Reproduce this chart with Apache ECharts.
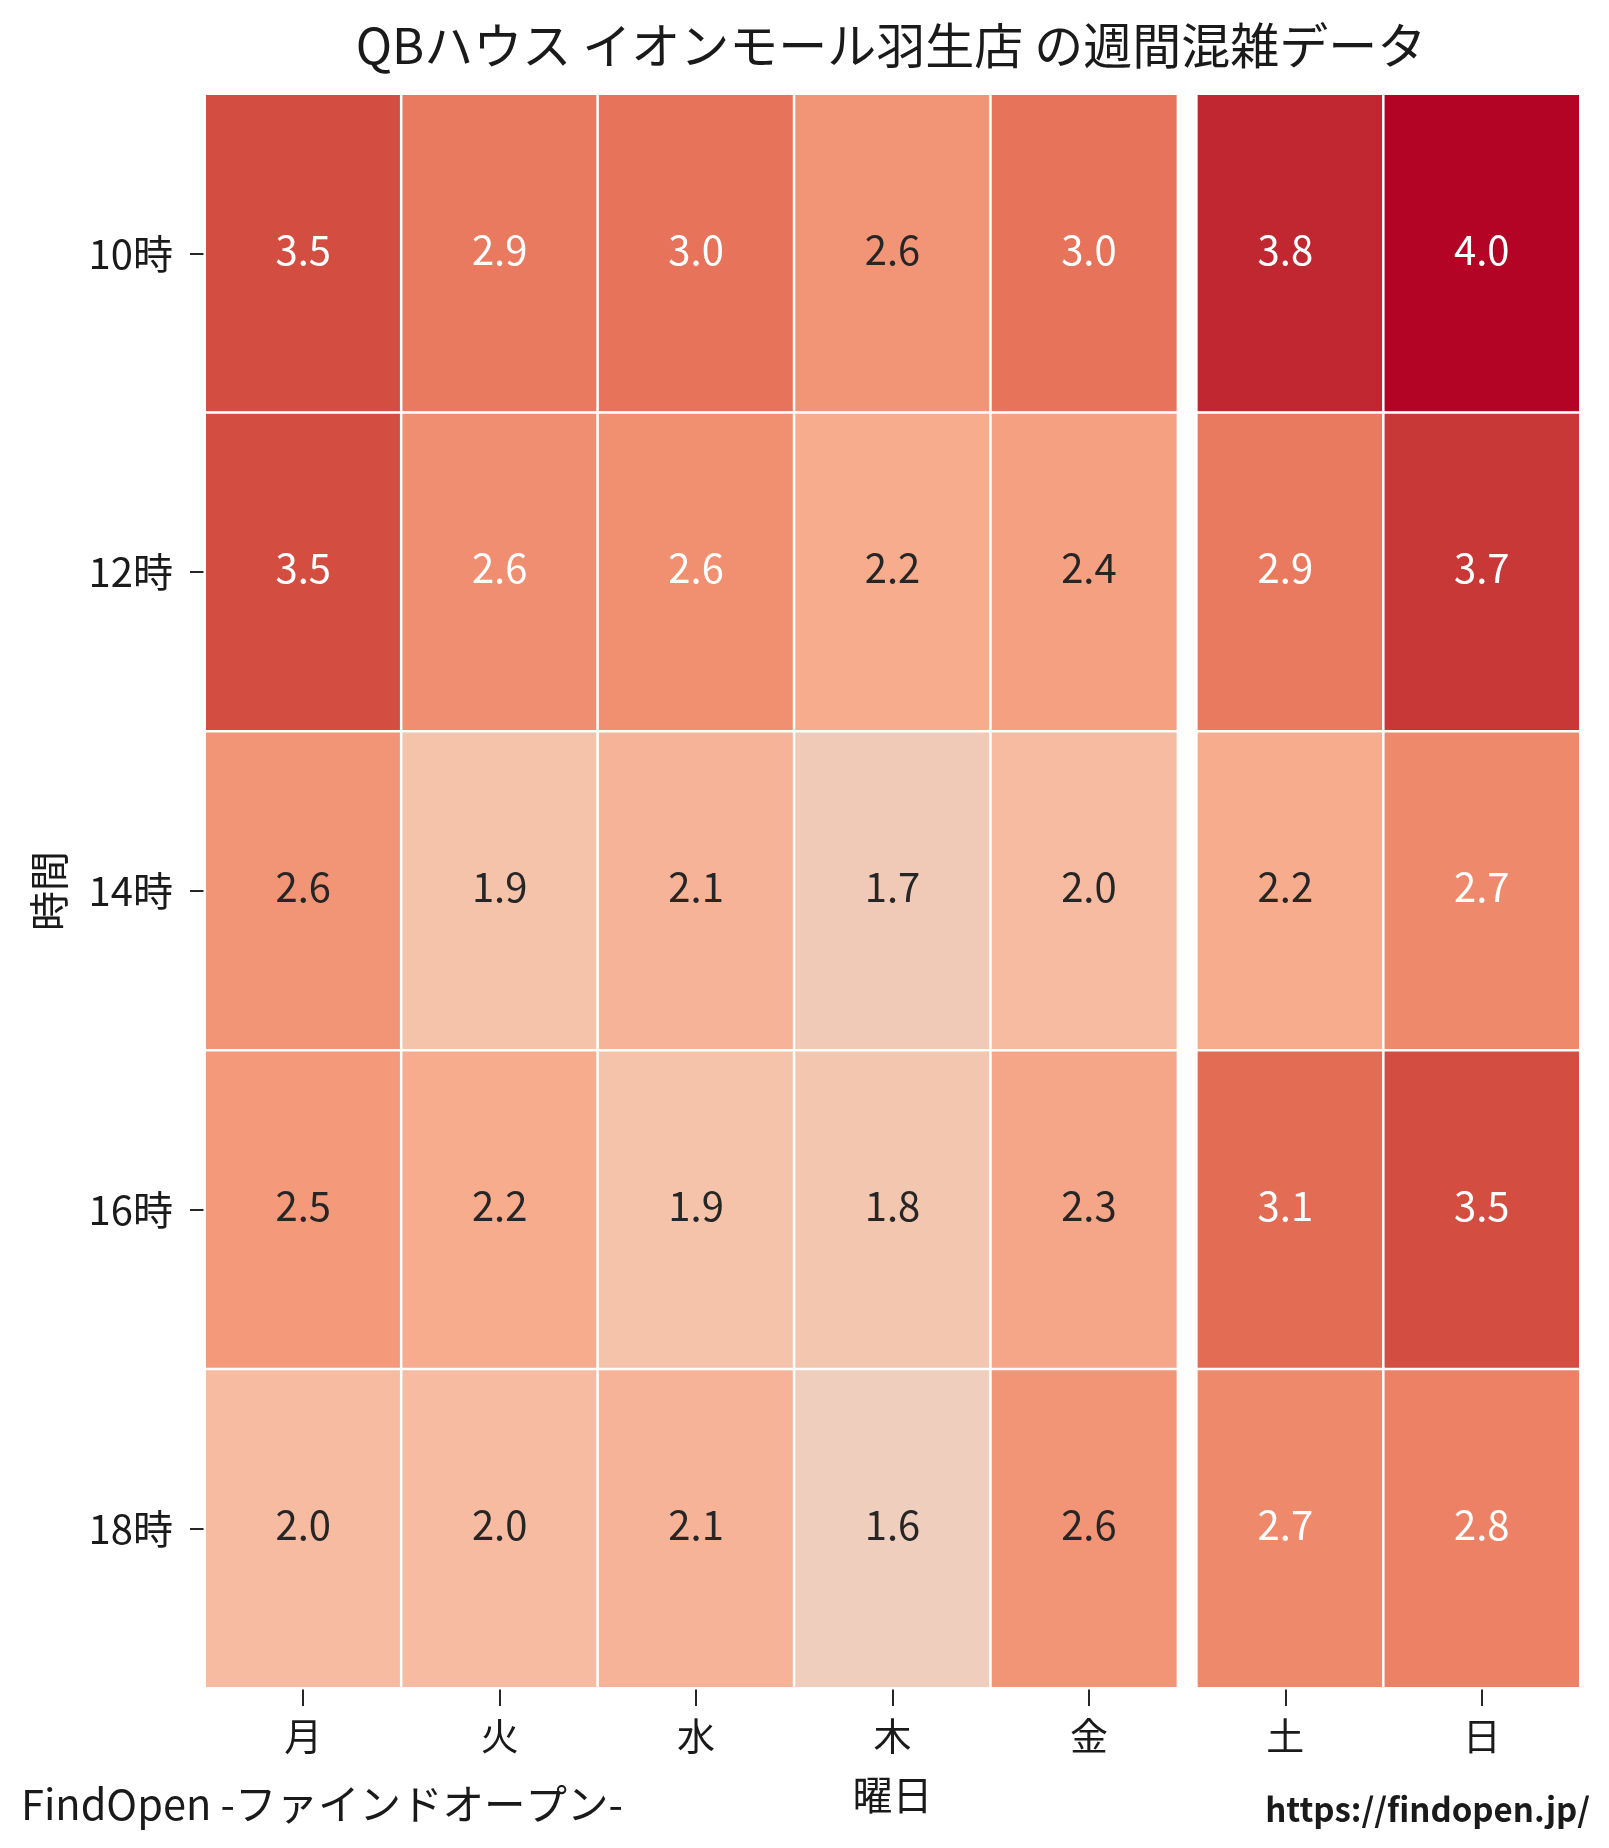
<!DOCTYPE html>
<html>
<head>
<meta charset="utf-8">
<title>QBハウス イオンモール羽生店 の週間混雑データ</title>
<script src="https://cdn.jsdelivr.net/npm/echarts@6/dist/echarts.min.js"></script>
<style>
    html, body { margin: 0; padding: 0; background: #fff; }
    #chart { width: 1609px; height: 1848px; }
</style>
</head>
<body>
<div id="chart"></div>
<script>
    // 曜日 (横) と 時間 (縦)
    var days = ['月', '火', '水', '木', '金', '土', '日'];
    var hours = ['10時', '12時', '14時', '16時', '18時'];

    // 各時間帯の混雑度 (月〜日)
    var row10 = [3.5, 2.9, 3.0, 2.57, 3.0, 3.8, 4.0];
    var row12 = [3.5, 2.64, 2.63, 2.2, 2.4, 2.9, 3.7];
    var row14 = [2.57, 1.9, 2.1, 1.7, 2.0, 2.2, 2.7];
    var row16 = [2.5, 2.2, 1.9, 1.8, 2.3, 3.1, 3.5];
    var row18 = [2.0, 2.0, 2.1, 1.6, 2.57, 2.7, 2.8];
    var rows = [row10, row12, row14, row16, row18];

    // 平日と週末の区切り (金の右側)
    var weekendSplit = [['金', '10時']];

    var fontJP = '"Noto Sans CJK JP", "Noto Sans", sans-serif';
    var cells = [];
    rows.forEach(function (r, y) {
        r.forEach(function (v, x) {
            cells.push({
                value: [x, y, v],
                label: { color: v > 2.6 ? '#ffffff' : '#262626' }
            });
        });
    });

    var chart = echarts.init(document.getElementById('chart'));
    chart.setOption({
        backgroundColor: '#ffffff',
        animation: false,
        title: [{
            text: 'QBハウス イオンモール羽生店 の週間混雑データ',
            left: 886,
            top: 16,
            textAlign: 'center',
            textStyle: { fontFamily: fontJP, fontSize: 49, fontWeight: 'normal', color: '#1a1a1a' }
        }, {
            text: 'FindOpen -ファインドオープン-',
            left: 16,
            top: 1778,
            textStyle: { fontFamily: fontJP, fontSize: 41.5, fontWeight: 'normal', color: '#1a1a1a' }
        }, {
            text: 'https://findopen.jp/',
            right: 14,
            top: 1788,
            textStyle: { fontFamily: fontJP, fontSize: 33, fontWeight: 'bold', color: '#1a1a1a' }
        }],
        grid: { left: 205, right: 29, top: 94, bottom: 160, outerBoundsMode: 'none' },
        xAxis: {
            type: 'category',
            data: days,
            name: '曜日',
            nameLocation: 'middle',
            nameGap: 87,
            nameTextStyle: { fontFamily: fontJP, fontSize: 40, color: '#1a1a1a' },
            axisLine: { show: false },
            axisTick: { show: true, alignWithLabel: true, length: 18, lineStyle: { color: '#262626', width: 2 } },
            axisLabel: { margin: 29, fontFamily: fontJP, fontSize: 38, color: '#1a1a1a' },
            splitLine: { show: false }
        },
        yAxis: {
            type: 'category',
            data: hours,
            inverse: true,
            name: '時間',
            nameLocation: 'middle',
            nameGap: 136,
            nameRotate: 90,
            nameTextStyle: { fontFamily: fontJP, fontSize: 40, color: '#1a1a1a' },
            axisLine: { show: false },
            axisTick: { show: true, alignWithLabel: true, length: 15, lineStyle: { color: '#262626', width: 2 } },
            axisLabel: { margin: 32, fontFamily: fontJP, fontSize: 40, color: '#1a1a1a' },
            splitLine: { show: false }
        },
        visualMap: {
            show: false,
            type: 'continuous',
            dimension: 2,
            seriesIndex: 0,
            min: 1.6,
            max: 4.0,
            inRange: {
                color: ['#efcebd', '#f5c2aa', '#f7ac8e', '#f49a7b', '#ec8165',
                        '#e36c55', '#d95847', '#c83836', '#b40426']
            }
        },
        series: [{
            type: 'heatmap',
            data: cells,
            itemStyle: { borderColor: '#ffffff', borderWidth: 2.5 },
            label: {
                show: true,
                fontFamily: fontJP,
                fontSize: 40,
                offset: [0, -4],
                formatter: function (p) { return p.value[2].toFixed(1); }
            },
            emphasis: { disabled: true }
        }, {
            type: 'custom',
            z: 5,
            silent: true,
            data: weekendSplit,
            renderItem: function (params, api) {
                var cs = params.coordSys;
                var x = api.coord([api.value(0), api.value(1)])[0] + api.size([1, 0])[0] / 2;
                return {
                    type: 'rect',
                    shape: { x: x - 10.5, y: cs.y - 1, width: 21, height: cs.height + 2 },
                    style: { fill: '#ffffff' }
                };
            }
        }]
    });
</script>
</body>
</html>
